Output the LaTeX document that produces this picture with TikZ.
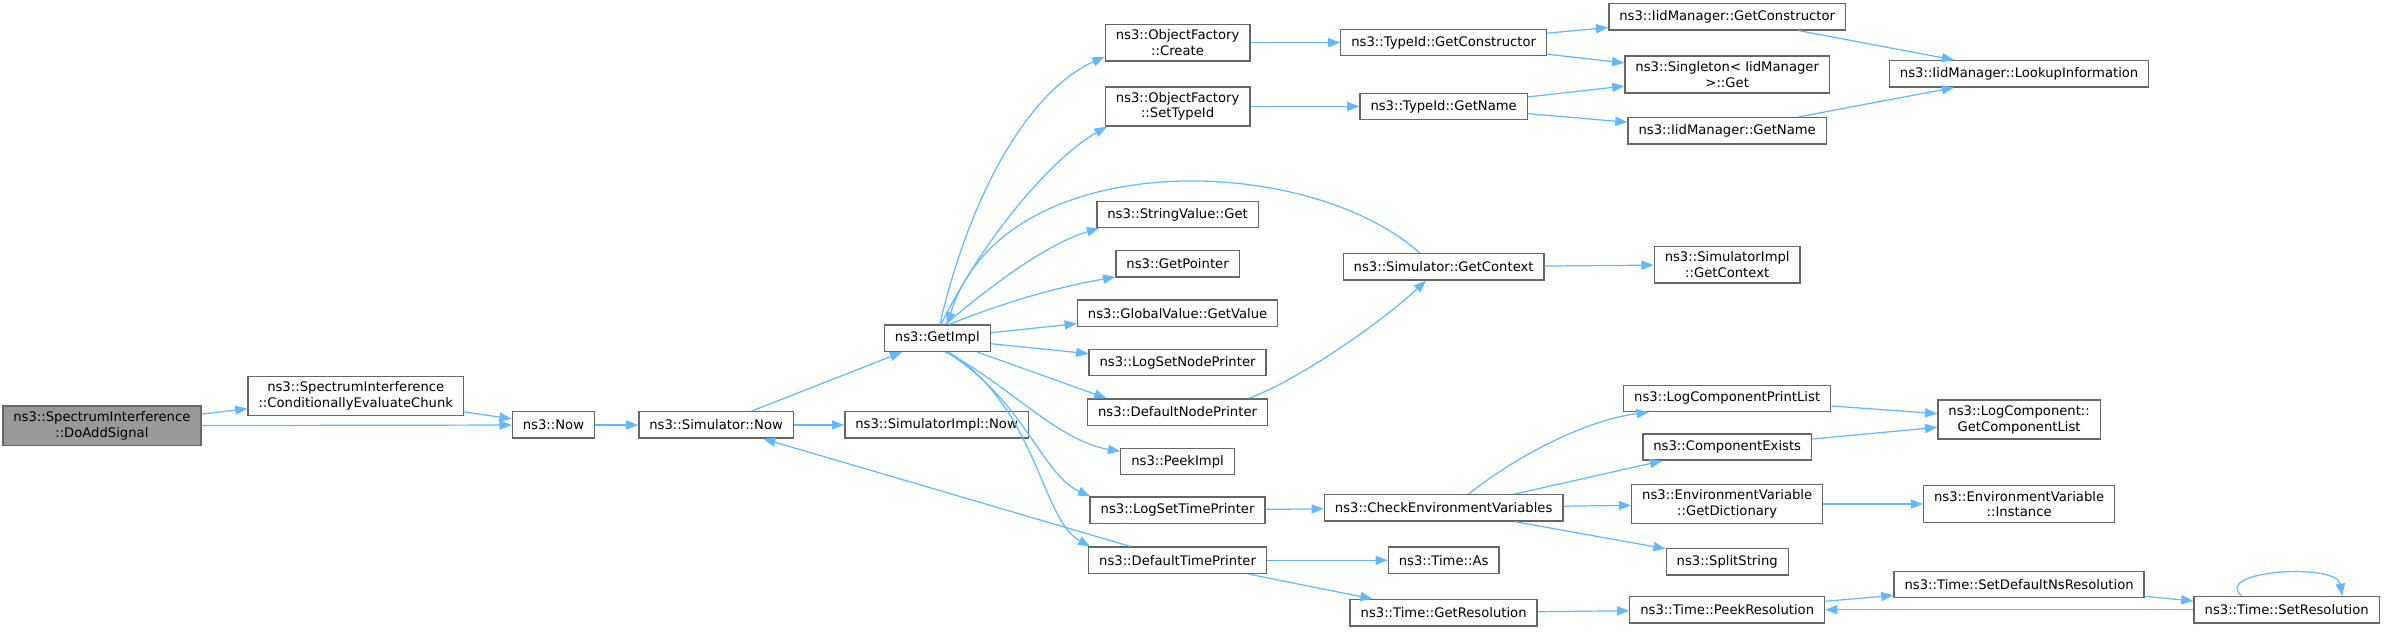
\documentclass[tikz,border=0pt]{standalone}
\usepackage{fontspec}
\setmainfont{DejaVu Sans}
\usetikzlibrary{arrows.meta}
\definecolor{edgeblue}{HTML}{63B8FF}
\definecolor{boxgrey}{HTML}{666666}
\definecolor{fillgrey}{HTML}{999999}
\begin{document}
\begin{tikzpicture}[x=1pt,y=-1pt,
  box/.style={draw=boxgrey, line width=0.9pt, fill=white, text=black,
    font=\fontsize{8.67}{10.4}\selectfont, align=center,
    inner xsep=6.9pt, inner ysep=3.5pt, minimum height=17.3pt},
  startbox/.style={box, fill=fillgrey},
  edge/.style={draw=edgeblue, line width=0.8pt, -{Triangle[length=8pt,width=6pt]}}]
\useasboundingbox (0,0) rectangle (1568,416);
\fill[white] (0,0) rectangle (1568,416);
% column 0/1
\node[startbox] (dos) at (67,280) {ns3::SpectrumInterference\\::DoAddSignal};
\node[box] (cec) at (234,260.5) {ns3::SpectrumInterference\\::ConditionallyEvaluateChunk};
\node[box] (now) at (364,279.5) {ns3::Now};
\node[box] (simnow) at (471,279.5) {ns3::Simulator::Now};
\node[box] (simimplnow) at (616,279.5) {ns3::SimulatorImpl::Now};
\node[box] (getimpl) at (616.5,222.5) {ns3::GetImpl};
% column 2
\node[box] (ofcreate) at (774.5,28) {ns3::ObjectFactory\\::Create};
\node[box] (ofsettypeid) at (774.5,70) {ns3::ObjectFactory\\::SetTypeId};
\node[box] (svget) at (774.5,141) {ns3::StringValue::Get};
\node[box] (getpointer) at (774.5,173.5) {ns3::GetPointer};
\node[box] (gvgetvalue) at (774.5,206) {ns3::GlobalValue::GetValue};
\node[box] (logsetnode) at (774.5,238.5) {ns3::LogSetNodePrinter};
\node[box] (defnode) at (774.5,271) {ns3::DefaultNodePrinter};
\node[box] (peekimpl) at (774.5,303.5) {ns3::PeekImpl};
\node[box] (logsettime) at (774.5,335.5) {ns3::LogSetTimePrinter};
\node[box] (deftime) at (774.5,368.5) {ns3::DefaultTimePrinter};
% column 3
\node[box] (tidgetctor) at (949.5,28) {ns3::TypeId::GetConstructor};
\node[box] (tidgetname) at (949.5,70) {ns3::TypeId::GetName};
\node[box] (simgetctx) at (949.5,175.5) {ns3::Simulator::GetContext};
\node[box] (checkenv) at (949.5,334) {ns3::CheckEnvironmentVariables};
\node[box] (timeas) at (949.5,368.5) {ns3::Time::As};
\node[box] (timegetres) at (949.5,403) {ns3::Time::GetResolution};
% column 4
\node[box] (iidgetctor) at (1136,11) {ns3::IidManager::GetConstructor};
\node[box] (singleton) at (1136,49) {ns3::Singleton< IidManager\\ >::Get};
\node[box] (iidgetname) at (1136,86) {ns3::IidManager::GetName};
\node[box] (simimplctx) at (1136,174) {ns3::SimulatorImpl\\::GetContext};
\node[box] (logcompprint) at (1136,262) {ns3::LogComponentPrintList};
\node[box] (compexists) at (1136,294) {ns3::ComponentExists};
\node[box] (envgetdict) at (1136,331.5) {ns3::EnvironmentVariable\\::GetDictionary};
\node[box] (splitstring) at (1136,369.5) {ns3::SplitString};
\node[box] (peekres) at (1136,401) {ns3::Time::PeekResolution};
% column 5
\node[box] (lookup) at (1328,48.5) {ns3::IidManager::LookupInformation};
\node[box] (getcomplist) at (1328,276) {ns3::LogComponent::\\GetComponentList};
\node[box] (envinstance) at (1328,331.5) {ns3::EnvironmentVariable\\::Instance};
\node[box] (setdefns) at (1328,384.5) {ns3::Time::SetDefaultNsResolution};
% column 6
\node[box] (setres) at (1504,401) {ns3::Time::SetResolution};

% edges
\draw[edge] (dos) -- (cec);
\draw[edge] (dos) -- (now);
\draw[edge] (cec) -- (now);
\draw[edge] (now) -- (simnow);
\draw[edge] (simnow) -- (simimplnow);
\draw[edge] (simnow) -- (getimpl);
\draw[edge] (getimpl.80) .. controls (640,120) and (680,58) .. (ofcreate.191);
\draw[edge] (getimpl.75) .. controls (645,160) and (690,105) .. (ofsettypeid.196);
\draw[edge] (getimpl.60) .. controls (655,185) and (690,160) .. (svget.190);
\draw[edge] (getimpl.50) .. controls (665,197) and (700,188) .. (getpointer.192);
\draw[edge] (getimpl) -- (gvgetvalue);
\draw[edge] (getimpl) -- (logsetnode);
\draw[edge] (getimpl.-19) -- (defnode.169);
\draw[edge] (getimpl.-60) .. controls (660,250) and (695,290) .. (peekimpl.170);
\draw[edge] (getimpl.-55) .. controls (675,265) and (685,312) .. (logsettime.171);
\draw[edge] (getimpl.-50) .. controls (682,268) and (685,342) .. (deftime.171);
\draw[edge] (simgetctx.150) .. controls (860,100) and (660,95) .. (getimpl.55);
\draw[edge] (defnode.11) .. controls (850,252) and (905,215) .. (simgetctx.-142);
\draw[edge] (deftime) -- (simnow);
\draw[edge] (ofcreate) -- (tidgetctor);
\draw[edge] (ofsettypeid) -- (tidgetname);
\draw[edge] (tidgetctor) -- (iidgetctor);
\draw[edge] (tidgetctor) -- (singleton);
\draw[edge] (tidgetname) -- (singleton);
\draw[edge] (tidgetname) -- (iidgetname);
\draw[edge] (iidgetctor.-11) -- (lookup.168);
\draw[edge] (iidgetname.11) -- (lookup.192);
\draw[edge] (simgetctx) -- (simimplctx);
\draw[edge] (logsettime) -- (checkenv);
\draw[edge] (checkenv.29) .. controls (1000,298) and (1045,276) .. (logcompprint.190);
\draw[edge] (checkenv.11) -- (compexists.192);
\draw[edge] (checkenv) -- (envgetdict);
\draw[edge] (checkenv.-11) -- (splitstring.168);
\draw[edge] (logcompprint) -- (getcomplist);
\draw[edge] (compexists) -- (getcomplist);
\draw[edge] (envgetdict) -- (envinstance);
\draw[edge] (deftime) -- (timeas);
\draw[edge] (deftime.-11) -- (timegetres.169);
\draw[edge] (timegetres) -- (peekres);
\draw[edge] (peekres) -- (setdefns);
\draw[edge] (setdefns) -- (setres);
\draw[edge] (setres) -- (peekres);
\draw[edge] (setres.163) .. controls (1455,375) and (1537,370) .. (setres.14);
\end{tikzpicture}
\end{document}
